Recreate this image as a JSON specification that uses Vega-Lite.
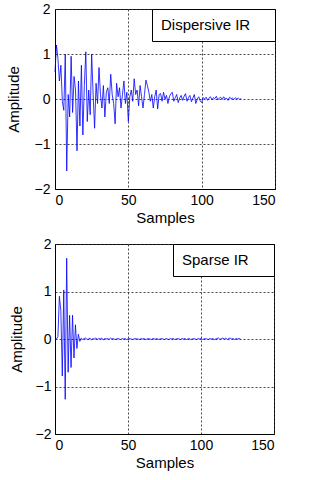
{
  "$schema": "https://vega.github.io/schema/vega-lite/v6.json",
  "background": "#ffffff",
  "padding": {"left": 5, "top": 1, "right": 5, "bottom": 5},
  "datasets": {
    "disp": [
      {"n":0,"a":0.6},{"n":1,"a":1.2},{"n":2,"a":0.9},{"n":3,"a":0.4},{"n":4,"a":0.75},{"n":5,"a":-0.05},{"n":6,"a":-0.25},{"n":7,"a":1.0},{"n":8,"a":-1.6},{"n":9,"a":0.1},
      {"n":10,"a":-0.4},{"n":11,"a":0.95},{"n":12,"a":-0.3},{"n":13,"a":0.5},{"n":14,"a":0.2},{"n":15,"a":-1.15},{"n":16,"a":0.4},{"n":17,"a":-0.6},{"n":18,"a":0.75},{"n":19,"a":-0.8},
      {"n":20,"a":0.3},{"n":21,"a":1.05},{"n":22,"a":-0.5},{"n":23,"a":0.2},{"n":24,"a":-0.35},{"n":25,"a":1.0},{"n":26,"a":0.1},{"n":27,"a":-0.65},{"n":28,"a":0.35},{"n":29,"a":-0.1},
      {"n":30,"a":0.7},{"n":31,"a":0.1},{"n":32,"a":-0.2},{"n":33,"a":0.3},{"n":34,"a":-0.4},{"n":35,"a":0.15},{"n":36,"a":0.25},{"n":37,"a":-0.1},{"n":38,"a":0.55},{"n":39,"a":0.1},
      {"n":40,"a":-0.1},{"n":41,"a":-0.55},{"n":42,"a":0.35},{"n":43,"a":0.05},{"n":44,"a":0.25},{"n":45,"a":-0.2},{"n":46,"a":0.1},{"n":47,"a":0.4},{"n":48,"a":-0.1},{"n":49,"a":0.15},
      {"n":50,"a":-0.5},{"n":51,"a":0.05},{"n":52,"a":0.2},{"n":53,"a":-0.05},{"n":54,"a":0.45},{"n":55,"a":0.1},{"n":56,"a":0.2},{"n":57,"a":-0.15},{"n":58,"a":0.3},{"n":59,"a":0.05},
      {"n":60,"a":-0.2},{"n":61,"a":0.1},{"n":62,"a":0.42},{"n":63,"a":0.3},{"n":64,"a":0.15},{"n":65,"a":-0.05},{"n":66,"a":0.1},{"n":67,"a":-0.2},{"n":68,"a":0.05},{"n":69,"a":0.2},
      {"n":70,"a":-0.22},{"n":71,"a":0.1},{"n":72,"a":0.12},{"n":73,"a":-0.05},{"n":74,"a":0.15},{"n":75,"a":0.0},{"n":76,"a":0.08},{"n":77,"a":-0.1},{"n":78,"a":0.05},{"n":79,"a":0.12},
      {"n":80,"a":0.15},{"n":81,"a":-0.05},{"n":82,"a":0.03},{"n":83,"a":0.1},{"n":84,"a":-0.08},{"n":85,"a":0.02},{"n":86,"a":0.08},{"n":87,"a":-0.03},{"n":88,"a":0.06},{"n":89,"a":0.12},
      {"n":90,"a":-0.05},{"n":91,"a":0.03},{"n":92,"a":0.08},{"n":93,"a":-0.06},{"n":94,"a":0.02},{"n":95,"a":0.1},{"n":96,"a":-0.1},{"n":97,"a":0.0},{"n":98,"a":0.05},{"n":99,"a":-0.04},
      {"n":100,"a":-0.08},{"n":101,"a":0.03},{"n":102,"a":0.0},{"n":103,"a":0.04},{"n":104,"a":-0.03},{"n":105,"a":0.02},{"n":106,"a":0.05},{"n":107,"a":-0.02},{"n":108,"a":0.03},{"n":109,"a":0.01},
      {"n":110,"a":0.06},{"n":111,"a":-0.02},{"n":112,"a":0.02},{"n":113,"a":0.04},{"n":114,"a":-0.01},{"n":115,"a":0.05},{"n":116,"a":0.0},{"n":117,"a":0.02},{"n":118,"a":-0.03},{"n":119,"a":0.04},
      {"n":120,"a":0.01},{"n":121,"a":0.02},{"n":122,"a":-0.01},{"n":123,"a":0.03},{"n":124,"a":0.0},{"n":125,"a":0.02},{"n":126,"a":-0.01},{"n":127,"a":0.01}
    ],
    "sparse": [
      {"n":0,"a":0.0},{"n":1,"a":0.0},{"n":2,"a":0.05},{"n":3,"a":0.9},{"n":4,"a":0.6},{"n":5,"a":-0.78},{"n":6,"a":1.03},{"n":7,"a":-1.27},{"n":8,"a":1.7},{"n":9,"a":-0.7},
      {"n":10,"a":0.5},{"n":11,"a":-0.6},{"n":12,"a":0.5},{"n":13,"a":-0.4},{"n":14,"a":0.3},{"n":15,"a":-0.2},{"n":16,"a":0.1},{"n":17,"a":-0.05},{"n":18,"a":0.02},{"n":19,"a":-0.01},
      {"n":20,"a":0.01},{"n":21,"a":0.02},{"n":22,"a":-0.01},{"n":23,"a":0.0},{"n":24,"a":0.02},{"n":25,"a":-0.02},{"n":26,"a":0.01},{"n":27,"a":0.0},{"n":28,"a":0.02},{"n":29,"a":-0.01},
      {"n":30,"a":0.01},{"n":31,"a":0.0},{"n":32,"a":0.02},{"n":33,"a":-0.02},{"n":34,"a":0.01},{"n":35,"a":0.0},{"n":36,"a":0.01},{"n":37,"a":-0.01},{"n":38,"a":0.02},{"n":39,"a":0.0},
      {"n":40,"a":0.01},{"n":41,"a":-0.01},{"n":42,"a":0.0},{"n":43,"a":0.01},{"n":44,"a":0.0},{"n":45,"a":-0.01},{"n":46,"a":0.01},{"n":47,"a":0.0},{"n":48,"a":0.01},{"n":49,"a":-0.01},
      {"n":50,"a":0.0},{"n":51,"a":0.01},{"n":52,"a":0.0},{"n":53,"a":-0.01},{"n":54,"a":0.0},{"n":55,"a":0.01},{"n":56,"a":0.0},{"n":57,"a":0.0},{"n":58,"a":-0.01},{"n":59,"a":0.01},
      {"n":60,"a":0.0},{"n":61,"a":0.01},{"n":62,"a":-0.01},{"n":63,"a":0.0},{"n":64,"a":0.01},{"n":65,"a":0.0},{"n":66,"a":-0.01},{"n":67,"a":0.01},{"n":68,"a":0.0},{"n":69,"a":0.0},
      {"n":70,"a":0.01},{"n":71,"a":-0.01},{"n":72,"a":0.0},{"n":73,"a":0.01},{"n":74,"a":0.0},{"n":75,"a":-0.01},{"n":76,"a":0.01},{"n":77,"a":0.0},{"n":78,"a":-0.01},{"n":79,"a":0.01},
      {"n":80,"a":0.0},{"n":81,"a":0.01},{"n":82,"a":-0.01},{"n":83,"a":0.0},{"n":84,"a":0.01},{"n":85,"a":0.0},{"n":86,"a":-0.01},{"n":87,"a":0.01},{"n":88,"a":0.0},{"n":89,"a":0.01},
      {"n":90,"a":-0.01},{"n":91,"a":0.0},{"n":92,"a":0.01},{"n":93,"a":-0.01},{"n":94,"a":0.0},{"n":95,"a":0.01},{"n":96,"a":0.0},{"n":97,"a":-0.01},{"n":98,"a":0.01},{"n":99,"a":0.0},
      {"n":100,"a":0.01},{"n":101,"a":-0.01},{"n":102,"a":0.0},{"n":103,"a":0.01},{"n":104,"a":0.0},{"n":105,"a":-0.01},{"n":106,"a":0.01},{"n":107,"a":0.0},{"n":108,"a":0.01},{"n":109,"a":-0.01},
      {"n":110,"a":0.0},{"n":111,"a":0.01},{"n":112,"a":0.02},{"n":113,"a":-0.01},{"n":114,"a":0.01},{"n":115,"a":0.02},{"n":116,"a":0.0},{"n":117,"a":0.02},{"n":118,"a":-0.01},{"n":119,"a":0.01},
      {"n":120,"a":0.02},{"n":121,"a":0.0},{"n":122,"a":0.01},{"n":123,"a":-0.01},{"n":124,"a":0.01},{"n":125,"a":0.0},{"n":126,"a":0.01},{"n":127,"a":0.0}
    ]
  },
  "concat": [
    {
      "width": 220,
      "height": 180,
      "data": {"name": "disp"},
      "mark": {"type": "line", "strokeWidth": 0.8, "interpolate": "linear"},
      "encoding": {
        "x": {"field": "n", "type": "quantitative", "scale": {"domain": [0, 150], "nice": false}, "axis": {"values": [0, 50, 100, 150], "title": "Samples"}},
        "y": {"field": "a", "type": "quantitative", "scale": {"domain": [-2, 2], "nice": false}, "axis": {"values": [-2, -1, 0, 1, 2], "title": "Amplitude", "labelPadding": 5, "titlePadding": 13}},
        "color": {"datum": "Dispersive IR", "type": "nominal", "scale": {"range": ["#0000ff"]}, "legend": {"title": "."}}
      }
    },
    {
      "width": 219,
      "height": 190,
      "data": {"name": "sparse"},
      "mark": {"type": "line", "strokeWidth": 0.8, "interpolate": "linear"},
      "encoding": {
        "x": {"field": "n", "type": "quantitative", "scale": {"domain": [0, 150], "nice": false}, "axis": {"values": [0, 50, 100, 150], "title": "Samples"}},
        "y": {"field": "a", "type": "quantitative", "scale": {"domain": [-2, 2], "nice": false}, "axis": {"values": [-2, -1, 0, 1, 2], "title": "Amplitude", "labelPadding": 4, "titlePadding": 11}},
        "color": {"datum": "Sparse IR", "type": "nominal", "scale": {"range": ["#0000ff"]}, "legend": {"title": "."}}
      }
    }
  ],
  "columns": 1,
  "align": "none",
  "spacing": 10,
  "resolve": {"scale": {"color": "independent", "x": "independent", "y": "independent"}, "legend": {"color": "independent"}},
  "config": {
    "view": {"stroke": "#000000", "strokeWidth": 1},
    "font": "Liberation Sans",
    "axis": {
      "labelFont": "Liberation Sans", "labelFontSize": 14, "labelColor": "#000000", "labelPadding": 4,
      "titleFont": "Liberation Sans", "titleFontSize": 15, "titleFontWeight": "normal", "titleColor": "#000000",
      "domainColor": "#000000", "tickSize": 0, "grid": true, "gridColor": "#333333", "gridDash": [2, 2], "gridWidth": 1, "gridOpacity": 0.9
    },
    "axisX": {"titlePadding": 3},
    "legend": {
      "orient": "top-right", "offset": 0, "padding": 8,
      "strokeColor": "#000000", "fillColor": "#ffffff", "strokeWidth": 1,
      "titleOrient": "right", "titleOpacity": 0, "titlePadding": 12, "titleFont": "Liberation Sans", "titleFontSize": 15, "titleFontWeight": "normal",
      "labelFont": "Liberation Sans", "labelFontSize": 15, "labelColor": "#000000", "labelOffset": -14,
      "symbolOpacity": 0, "symbolStrokeWidth": 0.01, "symbolType": "square"
    }
  }
}
